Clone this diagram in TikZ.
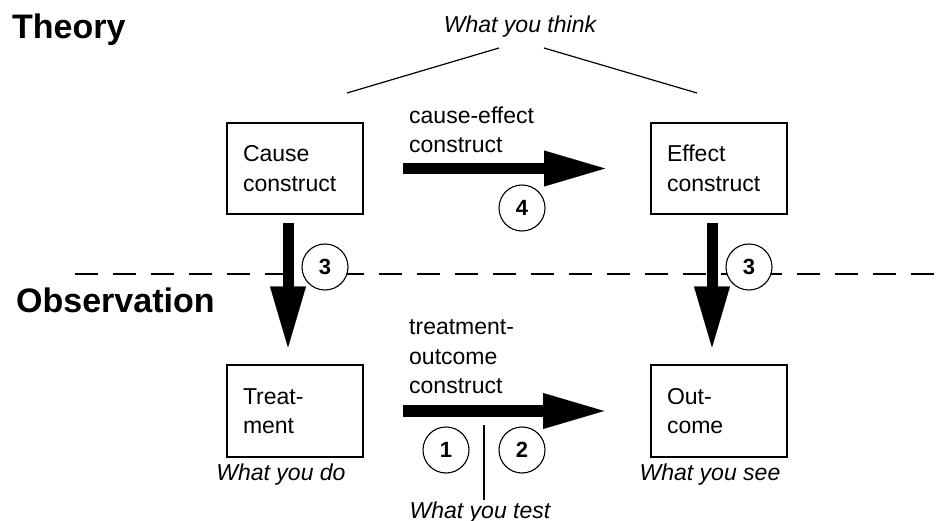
\documentclass[tikz,border=0pt]{standalone}
\usepackage{fontspec}
\setmainfont{Liberation Sans}
\usetikzlibrary{arrows.meta}
\begin{document}
\begin{tikzpicture}[x=1pt,y=-1pt,
  box/.style={draw,line width=2pt,minimum width=136pt,minimum height=91pt,
    text width=104pt,align=left,inner xsep=16pt,inner ysep=0pt,outer sep=0pt,
    font=\fontsize{23}{29.5}\selectfont},
  lbl/.style={align=left,inner sep=0pt,font=\fontsize{23}{29.5}\selectfont},
  ital/.style={inner sep=0pt,font=\fontsize{23}{28}\selectfont\itshape},
  head/.style={inner sep=0pt,font=\fontsize{34}{40}\selectfont\bfseries},
  num/.style={circle,draw,line width=1.1pt,minimum size=46pt,inner sep=0pt,
    font=\fontsize{22}{26}\selectfont\bfseries},
  bigarrow/.style={line width=11pt,
    -{Triangle[length=61pt,width=36pt,line width=0.01pt]}},
  thin/.style={line width=1.2pt}]
\useasboundingbox (0,0) rectangle (943,521);

% headings
\node[head,anchor=base west] (theory) at (12,39) {Theory};
\node[head,anchor=base west] (obs) at (16,313) {Observation};

% dashed divider
\coordinate (dl) at (75,274);
\coordinate (dr) at (943,274);
\draw[line width=1.6pt,dash pattern=on 23pt off 15pt] (dl) -- (dr);

% boxes
\node[box] (cause) at (295,168.5) {Cause\\construct};
\node[box] (effect) at (719,168.5) {Effect\\construct};
\node[box] (treat) at (295,411) {Treat-\\ment};
\node[box] (outc) at (719,411) {Out-\\come};

% what you think
\node[ital,anchor=base] (think) at (520,33) {What you think};
\coordinate (tl1) at (499,48); \coordinate (tl2) at (347,93);
\coordinate (tr1) at (544,48); \coordinate (tr2) at (697,93);
\draw[thin] (tl1) -- (tl2);
\draw[thin] (tr1) -- (tr2);

% arrow labels (base anchor = baseline of last line)
\node[lbl,anchor=base west] (celbl) at (409,153) {cause-effect\\construct};
\node[lbl,anchor=base west] (tolbl) at (409,394) {treatment-\\outcome\\construct};

% arrows
\draw[bigarrow] ([xshift=40pt]cause.east) -- ([xshift=-46pt]effect.west);
\draw[bigarrow] ([xshift=40pt]treat.east) -- ([xshift=-47pt]outc.west);
\draw[bigarrow] ([xshift=-7pt,yshift=-9pt]cause.south) -- ([xshift=-7pt,yshift=18pt]treat.north);
\draw[bigarrow] ([xshift=-7pt,yshift=-9pt]effect.south) -- ([xshift=-7pt,yshift=18pt]outc.north);

% numbered circles
\node[num,fill=white] (n4) at (522,208) {4};
\node[num,fill=white] (n3a) at (325,267) {3};
\node[num,fill=white] (n3b) at (749,267) {3};
\node[num] (n1) at (446,450) {1};
\node[num] (n2) at (522,450) {2};

% bottom labels
\node[ital,anchor=base] (wdo) at (281,480) {What you do};
\node[ital,anchor=base] (wsee) at (710,480) {What you see};
\node[ital,anchor=base] (wtest) at (480,518) {What you test};
\coordinate (vt) at (484,425);
\coordinate (vb) at (484,500);
\draw[thin] (vt) -- (vb);
\end{tikzpicture}
\end{document}
